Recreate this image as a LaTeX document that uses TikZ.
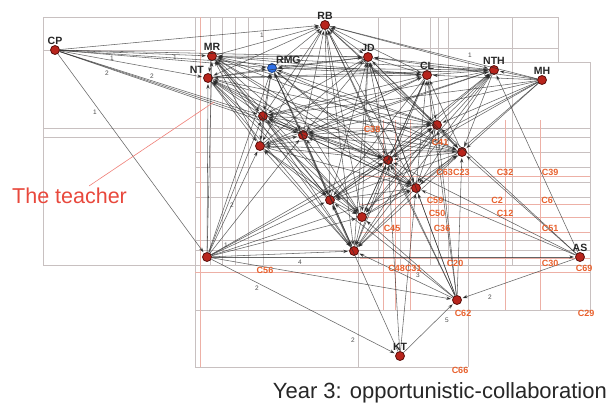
\documentclass[tikz,border=0pt]{standalone}
\usepackage{fontspec}
\setmainfont{Liberation Sans}
\usetikzlibrary{arrows.meta}

\definecolor{nodered}{HTML}{B8241C}
\definecolor{noderim}{HTML}{5A100C}
\definecolor{codeorange}{HTML}{E8602C}
\definecolor{gridgray}{HTML}{C8C0C0}
\definecolor{gridred}{HTML}{EDB0A6}
\definecolor{edgecol}{HTML}{2A2A2A}
\definecolor{pointerred}{HTML}{E8483C}
\definecolor{leadblue}{HTML}{2F6FE6}

\tikzset{
  actor/.style={circle, fill=nodered, draw=noderim, line width=0.8pt, minimum size=9pt, inner sep=0pt},
  lead/.style={actor, fill=leadblue, draw=leadblue!60!black},
  tag/.style={font=\bfseries\fontsize{10.5}{10.5}\selectfont, text=black!85, inner sep=0.5pt},
  code/.style={font=\bfseries\fontsize{9}{9}\selectfont, text=codeorange, inner sep=0.5pt},
  tie/.style={draw=edgecol, draw opacity=0.72, line width=0.55pt, -{Stealth[length=5pt,width=3.4pt]}, shorten >=1pt},
  weight/.style={font=\fontsize{6.5}{6.5}\selectfont, text=black!70, inner sep=0.5pt},
  gridg/.style={draw=gridgray, line width=0.8pt},
  gridr/.style={draw=gridred, line width=0.7pt},
}

\begin{document}
\begin{tikzpicture}[x=1pt, y=-1pt]
\useasboundingbox (0,0) rectangle (610,410);

% ---- partition grid behind the network ----
\draw[gridg] (43,17) -- (558,17);
\draw[gridg] (43,17) -- (43,265);
\draw[gridg] (43,50) -- (195,50);
\draw[gridg] (43,128) -- (590,128);
\draw[gridg] (43,137) -- (590,137);
\draw[gridg] (43,265) -- (590,265);
\draw[gridg] (300,48) -- (558,48);
\draw[gridg] (500,62) -- (590,62);
\draw[gridg] (195,310) -- (590,310);
\draw[gridg] (195,367) -- (468,367);
\draw[gridg] (195,17) -- (195,367);
\draw[gridg] (358,250) -- (358,367);
\draw[gridg] (468,62) -- (468,367);
\draw[gridg] (590,62) -- (590,313);
\draw[gridg] (558,17) -- (558,62);
\foreach \gx in {210,222,235,248,263,378,400,430,438,448,512}
  \draw[gridg] (\gx,17) -- (\gx,265);
\foreach \gy in {152,167,182,197,240,250}
  \draw[gridg] (195,\gy) -- (590,\gy);
\draw[gridr] (200,17) -- (200,367);
\draw[gridr] (195,272) -- (590,272);
\foreach \gy in {176,204,217,232,258}
  \draw[gridr] (360,\gy) -- (590,\gy);
\foreach \gx in {383,395,410,505,540}
  \draw[gridr] (\gx,120) -- (\gx,310);

% ---- actors ----
\node[actor, label={[tag]above:CP}]  (CP)  at (55,50)   {};
\node[actor, label={[tag]above:MR}]  (MR)  at (212,56)  {};
\node[actor, label={[tag]above left=-1pt:NT}] (NT) at (208,78) {};
\node[actor, label={[tag]above:RB}]  (RB)  at (325,25)  {};
\node[lead,  label={[tag]above right=-2pt:RMG}] (RMG) at (272,68) {};
\node[actor, label={[tag]above:JD}]  (JD)  at (368,57)  {};
\node[actor, label={[tag]above:CL}]  (CL)  at (427,75)  {};
\node[actor, label={[tag]above:NTH}] (NTH) at (494,70)  {};
\node[actor, label={[tag]above:MH}]  (MH)  at (542,80)  {};
\node[actor] (A) at (263,116) {};
\node[actor] (B) at (260,146) {};
\node[actor] (C) at (303,135) {};
\node[actor] (D) at (437,125) {};
\node[actor] (E) at (462,152) {};
\node[actor] (F) at (388,160) {};
\node[actor] (G) at (416,188) {};
\node[actor] (H) at (330,200) {};
\node[actor] (K) at (362,217) {};
\node[actor] (I) at (354,251) {};
\node[actor] (J) at (457,300) {};
\node[actor] (T) at (207,257) {};
\node[actor, label={[tag]above:KT}] (KT) at (400,356) {};
\node[actor, label={[tag]above:AS}] (AS) at (580,257) {};

% ---- ties inside the core group ----
\foreach \a [count=\i] in {MR,NT,RMG,RB,JD,CL,NTH,A,B,C,D,E,F,G,H,K,I}{
  \foreach \b [count=\j] in {MR,NT,RMG,RB,JD,CL,NTH,A,B,C,D,E,F,G,H,K,I}{
    \ifnum\j>\i
      \ifodd\numexpr\i+\j\relax
        \draw[tie] (\a) -- (\b);
      \else
        \draw[tie] (\b) -- (\a);
      \fi
    \fi
  }
}

% ---- ties of the outlying actors ----
\foreach \t in {RB,MR,NT,RMG,JD,CL,A,C,F}
  \draw[tie] (CP) -- (\t);
\draw[tie] (CP) -- (T);
\foreach \t in {RB,JD,CL,NTH,D,E,F,G,H,A,C}
  \draw[tie] (MH) -- (\t);
\foreach \t in {NT,MR,RMG,A,B,C,H,K,I,F,G,D}
  \draw[tie] (T) -- (\t);
\draw[tie] (T) -- (KT);
\draw[tie] (T) -- (J);
\draw[tie] (T) -- (AS);
\foreach \t in {F,G,D,E,H,K,I,CL,JD,RB}
  \draw[tie] (J) -- (\t);
\draw[tie] (KT) -- (F);
\draw[tie] (KT) -- (G);
\draw[tie] (KT) -- (J);
\draw[tie] (KT) -- (H);
\foreach \t in {D,NTH,G,E,F}
  \draw[tie] (AS) -- (\t);
\draw[tie] (AS) -- (J);

% ---- tie weights ----
\node[weight] (w1) at (112,58) {1};
\node[weight] (w2) at (107,73) {2};
\node[weight] (w3) at (152,76) {2};
\node[weight] (w4) at (175,57) {1};
\node[weight] (w5) at (262,35) {1};
\node[weight] (w6) at (95,112) {1};
\node[weight] (w7) at (232,205) {2};
\node[weight] (w8) at (226,245) {1};
\node[weight] (w9) at (300,262) {4};
\node[weight] (w10) at (257,288) {2};
\node[weight] (w11) at (353,340) {2};
\node[weight] (w12) at (490,297) {2};
\node[weight] (w13) at (447,320) {5};
\node[weight] (w14) at (418,275) {3};
\node[weight] (w15) at (470,55) {1};

% ---- content codes ----
\node[code] (c1)  at (372,129) {C38};
\node[code] (c2)  at (440,142) {C41};
\node[code] (c3)  at (453,172) {C63C23};
\node[code] (c4)  at (505,172) {C32};
\node[code] (c5)  at (550,172) {C39};
\node[code] (c6)  at (435,200) {C59};
\node[code] (c7)  at (497,200) {C2};
\node[code] (c8)  at (547,200) {C6};
\node[code] (c9)  at (437,213) {C50};
\node[code] (c10) at (505,213) {C12};
\node[code] (c11) at (392,228) {C45};
\node[code] (c12) at (442,228) {C36};
\node[code] (c13) at (550,228) {C51};
\node[code] (c14) at (265,270) {C56};
\node[code] (c15) at (405,268) {C48C31};
\node[code] (c16) at (455,263) {C20};
\node[code] (c17) at (550,263) {C30};
\node[code] (c18) at (584,268) {C69};
\node[code] (c19) at (463,313) {C62};
\node[code] (c20) at (586,313) {C29};
\node[code] (c21) at (460,370) {C66};

% ---- annotations ----
\node[font=\fontsize{21.5}{21.5}\selectfont, text=pointerred, anchor=west, inner sep=0pt] (teach) at (12,196) {The teacher};
\coordinate (tp) at (214,102);
\draw[pointerred!70, line width=0.6pt] (teach.north east) ++(-38,-2) -- (tp);
\node[font=\fontsize{22}{22}\selectfont, text=black!85, anchor=east, inner sep=0pt] (year) at (607,393) {Year 3: opportunistic-collaboration};
\end{tikzpicture}
\end{document}
